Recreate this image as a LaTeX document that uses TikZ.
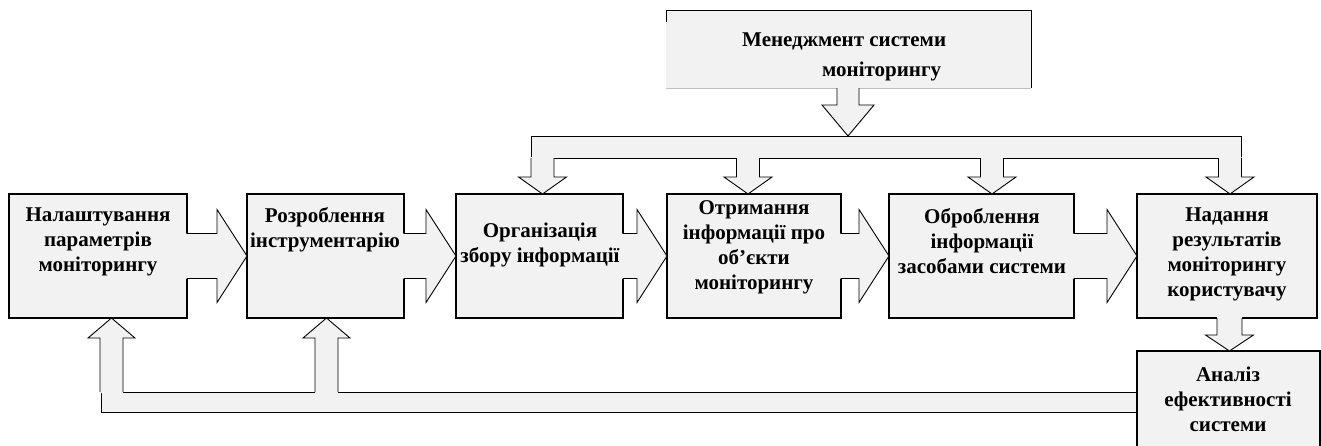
\documentclass[tikz,border=0pt]{standalone}
\usepackage{fontspec}
\setmainfont{Liberation Serif}
\usetikzlibrary{calc}

\tikzset{
  stage/.style={draw, line width=1.7pt, fill=black!5, inner sep=0pt, outer sep=0pt, anchor=north west},
  bus/.style={draw, line width=0.9pt, fill=black!5, inner sep=0pt, outer sep=0pt, anchor=north west},
  blk/.style={fill=black!5},
  blkline/.style={line width=0.9pt, line join=miter},
  stagetext/.style={font=\fontsize{21}{25}\selectfont\bfseries, align=center, inner sep=0pt},
}

\newcommand{\rightblock}[2]{%
  \fill[blk] let \p1=(#1.east), \p2=(#2.west) in
    ({\x1-1pt},{\y1+22.5pt}) -- ({\x2-30pt},{\y1+22.5pt}) -- ({\x2-30pt},{\y1+46.5pt})
    -- (\x2,\y1) -- ({\x2-30pt},{\y1-46.5pt}) -- ({\x2-30pt},{\y1-22.5pt}) -- ({\x1-1pt},{\y1-22.5pt}) -- cycle;
  \draw[blkline] let \p1=(#1.east), \p2=(#2.west) in
    (\x1,{\y1+22.5pt}) -- ({\x2-30pt},{\y1+22.5pt}) -- ({\x2-30pt},{\y1+46.5pt})
    -- (\x2,\y1) -- ({\x2-30pt},{\y1-46.5pt}) -- ({\x2-30pt},{\y1-22.5pt}) -- (\x1,{\y1-22.5pt});
}

\newcommand{\vertblock}[6]{%
  \fill[blk] let \p1=#2, \p2=#3, \n1={sign((\y2)-(\y1))} in
    ({#1pt-#4pt},{\y1-(\n1)*1pt}) -- ({#1pt-#4pt},{\y2-(\n1)*#6pt}) -- ({#1pt-#5pt},{\y2-(\n1)*#6pt})
    -- ({#1pt},\y2) -- ({#1pt+#5pt},{\y2-(\n1)*#6pt}) -- ({#1pt+#4pt},{\y2-(\n1)*#6pt}) -- ({#1pt+#4pt},{\y1-(\n1)*1pt}) -- cycle;
  \draw[blkline] let \p1=#2, \p2=#3, \n1={sign((\y2)-(\y1))} in
    ({#1pt-#4pt},\y1) -- ({#1pt-#4pt},{\y2-(\n1)*#6pt}) -- ({#1pt-#5pt},{\y2-(\n1)*#6pt})
    -- ({#1pt},\y2) -- ({#1pt+#5pt},{\y2-(\n1)*#6pt}) -- ({#1pt+#4pt},{\y2-(\n1)*#6pt}) -- ({#1pt+#4pt},\y1);
}

\begin{document}
\begin{tikzpicture}[x=1pt,y=-1pt]
  \clip (0,0) rectangle (1321,445);

  \node[fill=black!5, inner sep=0pt, outer sep=0pt, anchor=north west, minimum width=365pt, minimum height=78pt] (mgmt) at (666,10) {};
  \draw[line width=0.9pt] ($(mgmt.north west)+(0,12)$) -- (mgmt.north west) -- (mgmt.north east) -- (mgmt.south east);
  \draw[gray!50, line width=0.8pt] (mgmt.south west) -- (mgmt.south east);
  \node[stagetext, align=left, anchor=west] (mgmttext) at (742,57) {Менеджмент системи\\[5pt]\hspace*{80pt}моніторингу};

  \node[bus, minimum width=710pt, minimum height=22pt] (top) at (531,136) {};
  \node[bus, minimum width=1036pt, minimum height=20pt] (back) at (101,392) {};

  \node[stage, minimum width=178pt, minimum height=124pt] (s1) at (9,194) {};
  \node[stage, minimum width=157pt, minimum height=124pt] (s2) at (247,194) {};
  \node[stage, minimum width=167pt, minimum height=124pt] (s3) at (456,194) {};
  \node[stage, minimum width=174pt, minimum height=124pt] (s4) at (667,194) {};
  \node[stage, minimum width=185pt, minimum height=124pt] (s5) at (889,194) {};
  \node[stage, minimum width=180pt, minimum height=124pt] (s6) at (1137,194) {};
  \node[stage, minimum width=183pt, minimum height=110pt] (s7) at (1137,351) {};

  \node[stagetext] (t1) at (98,242) {Налаштування\\параметрів\\моніторингу};
  \node[stagetext] (t2) at (325,230) {Розроблення\\інструментарію};
  \node[stagetext] (t3) at (540,245) {Організація\\збору інформації};
  \node[stagetext] (t4) at (754,247) {Отримання\\інформації про\\об’єкти\\моніторингу};
  \node[stagetext] (t5) at (982,241) {Оброблення\\інформації\\засобами системи};
  \node[stagetext] (t6) at (1227,254) {Надання\\результатів\\моніторингу\\користувачу};
  \node[stagetext] (t7) at (1228,399) {Аналіз\\ефективності\\системи};

  \vertblock{848}{(mgmt.south)}{(top.north)}{11}{26}{31}
  \vertblock{542.5}{(top.south)}{(s3.north)}{11.5}{24}{17}
  \vertblock{748}{(top.south)}{(s4.north)}{11.5}{24}{17}
  \vertblock{992}{(top.south)}{(s5.north)}{11.5}{24}{17}
  \vertblock{1230}{(top.south)}{(s6.north)}{11.5}{24}{17}

  \rightblock{s1}{s2}
  \rightblock{s2}{s3}
  \rightblock{s3}{s4}
  \rightblock{s4}{s5}
  \rightblock{s5}{s6}

  \vertblock{1229.5}{(s6.south)}{(s7.north)}{12.5}{24}{16}
  \vertblock{111.5}{(back.north)}{(s1.south)}{11.5}{23.5}{20}
  \vertblock{326.5}{(back.north)}{(s2.south)}{11.5}{23.5}{20}
\end{tikzpicture}
\end{document}
